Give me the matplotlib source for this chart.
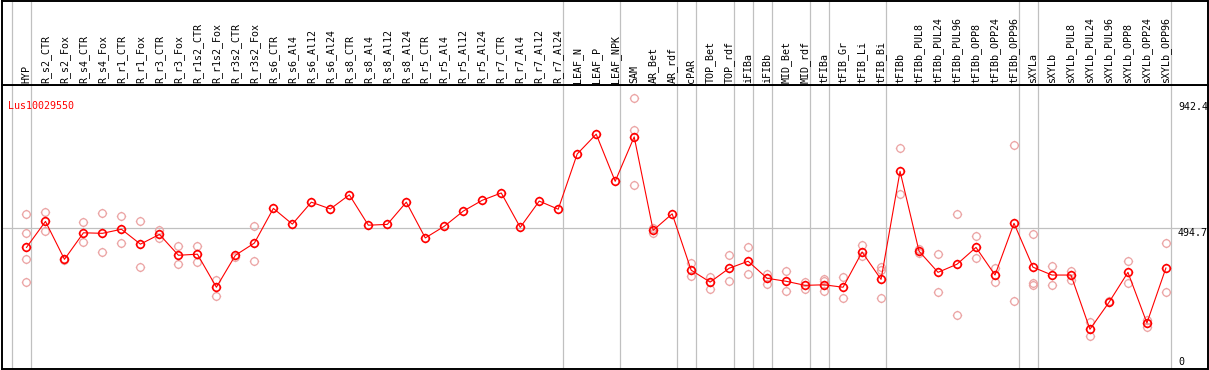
import numpy as np
import matplotlib
matplotlib.use("Agg")
import matplotlib.pyplot as plt
from matplotlib.path import Path
from matplotlib.markers import MarkerStyle

# sample names along the top
samples = ["HYP", "R_s2_CTR", "R_s2_Fox", "R_s4_CTR", "R_s4_Fox", "R_r1_CTR", "R_r1_Fox",
           "R_r3_CTR", "R_r3_Fox", "R_r1s2_CTR", "R_r1s2_Fox", "R_r3s2_CTR", "R_r3s2_Fox",
           "R_s6_CTR", "R_s6_Al4", "R_s6_Al12", "R_s6_Al24", "R_s8_CTR", "R_s8_Al4",
           "R_s8_Al12", "R_s8_Al24", "R_r5_CTR", "R_r5_Al4", "R_r5_Al12", "R_r5_Al24",
           "R_r7_CTR", "R_r7_Al4", "R_r7_Al12", "R_r7_Al24", "LEAF_N", "LEAF_P", "LEAF_NPK",
           "SAM", "AR_Bet", "AR_rdf", "cPAR", "TOP_Bet", "TOP_rdf", "iFIBa", "iFIBb",
           "MID_Bet", "MID_rdf", "tFIBa", "tFIB_Gr", "tFIB_Li", "tFIB_Bi", "tFIBb",
           "tFIBb_PUL8", "tFIBb_PUL24", "tFIBb_PUL96", "tFIBb_OPP8", "tFIBb_OPP24",
           "tFIBb_OPP96", "sXYLa", "sXYLb", "sXYLb_PUL8", "sXYLb_PUL24", "sXYLb_PUL96",
           "sXYLb_OPP8", "sXYLb_OPP24", "sXYLb_OPP96"]

# mean expression
means = [423, 519, 379, 477, 475, 490, 435, 471, 394, 398, 276, 394, 439,
         567, 509, 590, 565, 617, 505, 508, 590, 458, 501, 557, 597, 624, 497, 594, 564,
         768, 841, 667, 831, 486, 547, 339, 295, 346, 372, 309, 298, 283, 285, 276,
         406, 305, 704, 409, 331, 361, 423, 321, 512, 350, 321, 321, 121, 220, 331,
         144, 347]

# replicates (light circles)
reps = [[545, 475, 379, 294], [553, 485], [377], [516, 444], [549, 405], [538, 438],
        [519, 350], [487, 459], [427, 361], [427, 370], [303, 245], [388], [501, 372],
        [], [], [], [], [], [], [], [], [], [], [], [], [], [], [], [], [], [], [],
        [975, 855, 652], [495, 476], [], [365, 316], [314, 271], [394, 299], [423, 324],
        [325, 288], [336, 261], [295, 271], [308, 300, 261], [315, 237], [432, 390],
        [351, 341, 235], [790, 619], [416, 401], [400, 257], [545, 172], [464, 383],
        [347, 294], [800, 224], [471, 293, 284], [354, 283], [337, 304], [148, 95],
        [226], [373, 293], [155, 130], [438, 257]]

# group separators (after these indices)
seps = [-1, 0, 28, 31, 34, 35, 37, 38, 39, 41, 42, 45, 52, 53, 60]

W, H = 1209, 370
fig = plt.figure(figsize=(W / 100, H / 100), dpi=100)
fig.patch.set_facecolor("white")

xl = (-1.316, 62.19)
ax = fig.add_axes([1.5 / W, 1 / H, 1206 / W, 284 / H])
hd = fig.add_axes([1.5 / W, 285 / H, 1206 / W, 84.5 / H])

# circle with little nubs
t = np.linspace(0, 2 * np.pi, 33)
verts = list(zip(np.cos(t), np.sin(t)))
codes = [Path.MOVETO] + [Path.LINETO] * 32
for a in [0, np.pi / 2, np.pi, 3 * np.pi / 2]:
    verts += [(np.cos(a), np.sin(a)), (1.25 * np.cos(a), 1.25 * np.sin(a))]
    codes += [Path.MOVETO, Path.LINETO]
gear = MarkerStyle(Path(verts, codes))

x = np.arange(len(samples))
for a in (ax, hd):
    for s in seps:
        a.axvline(s + 0.25, color="#c0c0c0", lw=0.9, zorder=0)
    a.set_xlim(*xl)
    a.set_xticks([])
    a.set_yticks([])
    for sp in a.spines.values():
        sp.set_linewidth(1.4)
        sp.set_color("black")

ax.set_ylim(-25.8, 1022.5)
ax.axhline(494.7, color="#c0c0c0", lw=0.9, zorder=0)

for i, r in enumerate(reps):
    if r:
        ax.plot([i] * len(r), r, ls="none", marker=gear, ms=6.8, mfc="none",
                mec="#eba3a3", mew=0.9, zorder=2)
ax.plot(x, means, color="red", lw=0.8, marker=gear, ms=6.8, mfc="none",
        mec="red", mew=1.2, zorder=3)

ax.text(-1.0, 945, "Lus10029550", color="red", fontsize=7.2,
        family="DejaVu Sans Mono", ha="left", va="center")

tx = (1178 - 26) / 19
ax.text(tx, 942.4, "942.4", fontsize=7.2, family="DejaVu Sans Mono", ha="left", va="center")
ax.text(tx, 494.7, "494.7", fontsize=7.2, family="DejaVu Sans Mono", ha="left", va="top")
ax.text(tx, 0, "0", fontsize=7.2, family="DejaVu Sans Mono", ha="left", va="center")

hd.set_ylim(85, 0)
for i, s in enumerate(samples):
    hd.text(i, 82.5, s, rotation=90, fontsize=7.2, family="DejaVu Sans Mono",
            ha="center", va="bottom")

fig.savefig("out.png", dpi=100)
